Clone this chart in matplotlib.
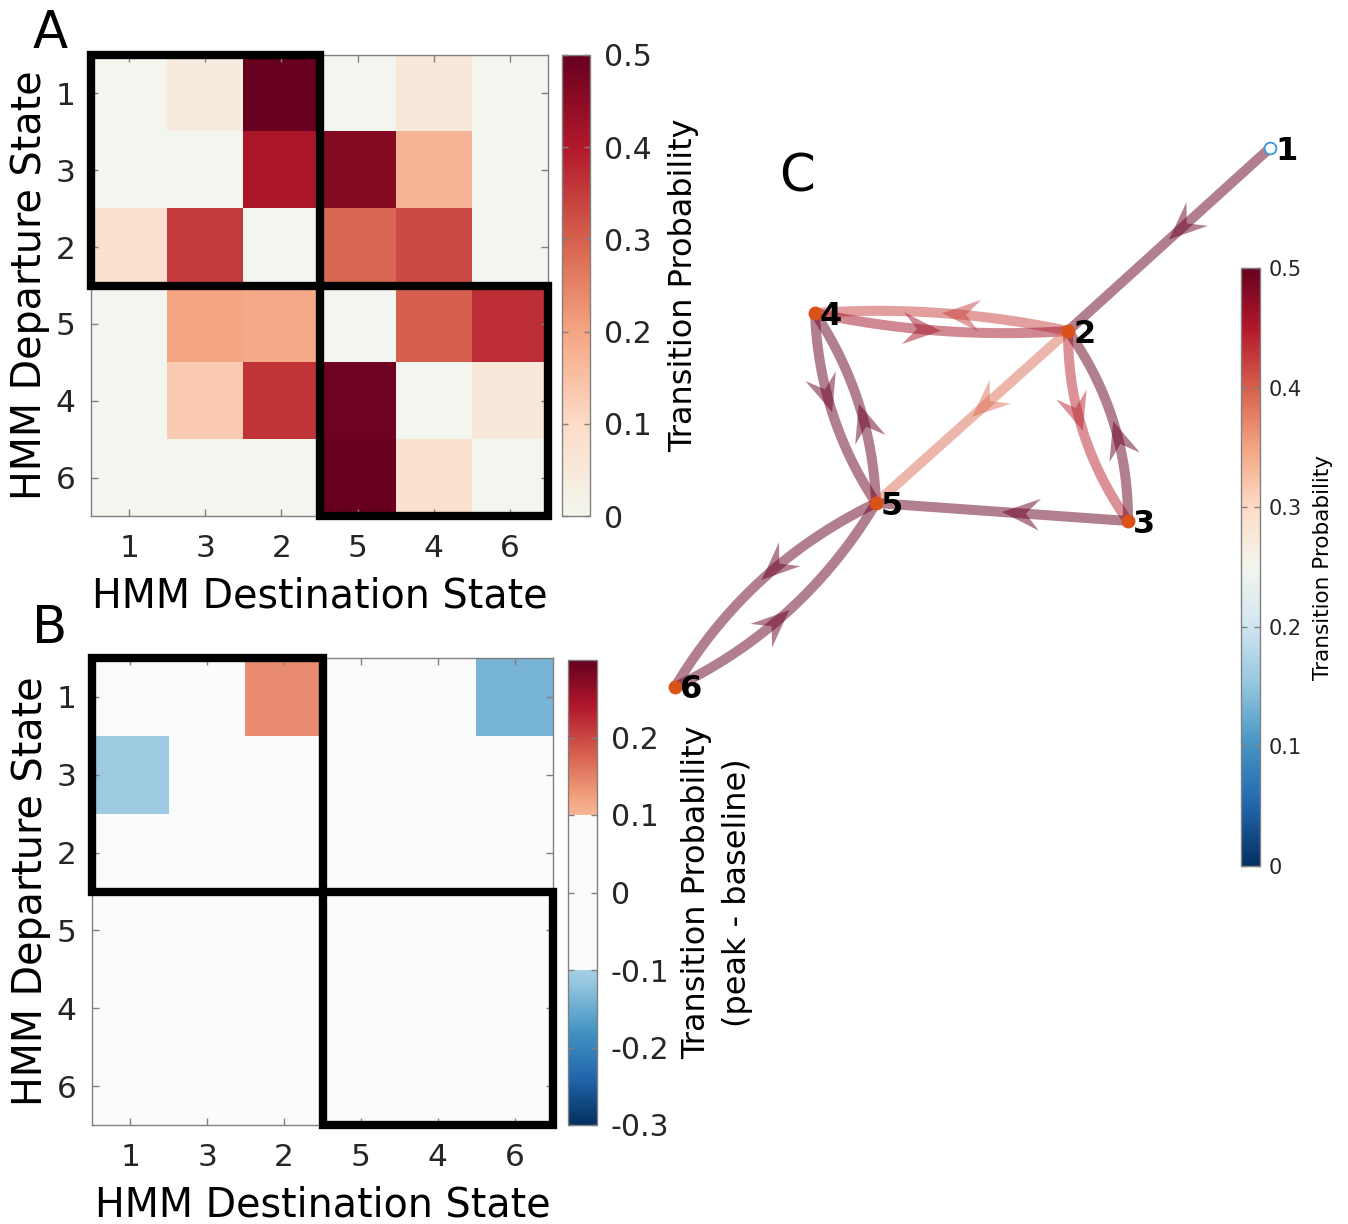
import numpy as np
import matplotlib
matplotlib.use('Agg')
import matplotlib.pyplot as plt
from matplotlib.colors import LinearSegmentedColormap, ListedColormap, Normalize
from matplotlib.patches import Rectangle, Polygon
from matplotlib.cm import ScalarMappable

plt.rcParams['font.family'] = ['DejaVu Sans']

# state order used on both matrix axes
state_order = ['1', '3', '2', '5', '4', '6']

# baseline transition probabilities (rows: departure, cols: destination)
trans_prob = np.array([
    [0.00, 0.04, 0.50, 0.00, 0.05, 0.00],
    [0.00, 0.00, 0.41, 0.46, 0.17, 0.00],
    [0.08, 0.35, 0.00, 0.29, 0.33, 0.00],
    [0.00, 0.20, 0.19, 0.00, 0.30, 0.37],
    [0.00, 0.13, 0.36, 0.49, 0.00, 0.05],
    [0.00, 0.00, 0.00, 0.50, 0.08, 0.00],
])

# peak minus baseline
trans_diff = np.array([
    [0.00, 0.00, 0.14, 0.00, 0.00, -0.14],
    [-0.11, 0.00, 0.00, 0.00, 0.00, 0.00],
    [0.00, 0.00, 0.00, 0.00, 0.00, 0.00],
    [0.00, 0.00, 0.00, 0.00, 0.00, 0.00],
    [0.00, 0.00, 0.00, 0.00, 0.00, 0.00],
    [0.00, 0.00, 0.00, 0.00, 0.00, 0.00],
])

# block outlines: (first index, size)
blocks = [(0, 3), (3, 3)]

# graph layout
node_ids = [1, 2, 3, 4, 5, 6]
node_x = [5.95, 3.93, 4.53, 1.40, 2.01, 0.00]
node_y = [5.39, 3.56, 1.66, 3.74, 1.84, 0.00]

# directed edges of the transition graph
edge_src = [1, 2, 4, 4, 5, 2, 2, 3, 3, 5, 6]
edge_dst = [2, 4, 2, 5, 4, 5, 3, 2, 5, 6, 5]
edge_w = [0.50, 0.42, 0.46, 0.50, 0.50, 0.39, 0.44, 0.50, 0.50, 0.50, 0.50]

# bend for reciprocal edge pairs
pair_rad = {(2, 4): 0.07, (4, 5): 0.14, (2, 3): 0.16, (5, 6): 0.15}

# colour maps
rb_pts = ['#053061', '#2166ac', '#4393c3', '#92c5de', '#d1e5f0', '#f3f6ee',
          '#fddbc7', '#f4a582', '#d6604d', '#b2182b', '#67001f']
div_cmap = LinearSegmentedColormap.from_list('div', rb_pts)
red_cmap = LinearSegmentedColormap.from_list('red', rb_pts[5:])

n = 600
diff_cols = plt.get_cmap('RdBu_r')(np.linspace(0, 1, n))
diff_cols[n // 3: 2 * n // 3] = matplotlib.colors.to_rgba('#fbfbfb')
diff_cmap = ListedColormap(diff_cols)

W, H = 1348, 1224
fig = plt.figure(figsize=(W / 100, H / 100), dpi=100)


def frac(x0, y0, x1, y1):
    return [x0 / W, 1 - y1 / H, (x1 - x0) / W, (y1 - y0) / H]


grey = '#808080'
tick_col = '#262626'


def draw_matrix(ax, mat, cmap, vmin, vmax):
    im = ax.imshow(mat, cmap=cmap, vmin=vmin, vmax=vmax, aspect='auto',
                   interpolation='nearest')
    ax.set_xticks(range(len(state_order)))
    ax.set_xticklabels(state_order)
    ax.set_yticks(range(len(state_order)))
    ax.set_yticklabels(state_order)
    ax.tick_params(direction='in', length=5, width=1, color=grey,
                   labelsize=22.5, labelcolor=tick_col, top=True, right=True)
    ax.tick_params(axis='x', pad=13)
    ax.tick_params(axis='y', pad=11)
    for s in ax.spines.values():
        s.set_edgecolor(grey)
        s.set_linewidth(1)
    ax.set_xlabel('HMM Destination State', fontsize=28.5, labelpad=10)
    ax.set_ylabel('HMM Departure State', fontsize=28.5, labelpad=4)
    for start, size in blocks:
        ax.add_patch(Rectangle((start - 0.5, start - 0.5), size, size, fill=False,
                               lw=6, ec='black', clip_on=False, zorder=5))
    return im


def style_cbar(cb, label, labelsize, ticksize, pad, lpad=8, lspace=1.2):
    cb.outline.set_edgecolor(grey)
    cb.outline.set_linewidth(1)
    cb.ax.tick_params(direction='in', length=4, width=1, color=grey,
                      labelsize=ticksize, labelcolor=tick_col, pad=pad,
                      left=True, right=True)
    cb.set_label(label, fontsize=labelsize, labelpad=lpad, linespacing=lspace)


# panel A
axA = fig.add_axes(frac(91, 55, 548, 516))
imA = draw_matrix(axA, trans_prob, red_cmap, 0, 0.5)
caxA = fig.add_axes(frac(562, 55, 590, 516))
cbA = fig.colorbar(imA, cax=caxA)
cbA.set_ticks([0, 0.1, 0.2, 0.3, 0.4, 0.5])
cbA.set_ticklabels(['0', '0.1', '0.2', '0.3', '0.4', '0.5'])
style_cbar(cbA, 'Transition Probability', 23, 21.5, 10, lpad=12)

# panel B
axB = fig.add_axes(frac(92, 658, 553, 1125))
imB = draw_matrix(axB, trans_diff, diff_cmap, -0.3, 0.3)
caxB = fig.add_axes(frac(568, 660, 597, 1125))
cbB = fig.colorbar(imB, cax=caxB)
cbB.set_ticks([-0.3, -0.2, -0.1, 0, 0.1, 0.2])
cbB.set_ticklabels(['-0.3', '-0.2', '-0.1', '0', '0.1', '0.2'])
style_cbar(cbB, 'Transition Probability\n(peak - baseline)', 23, 21.5, 10,
           lpad=8, lspace=1.45)

# panel C: transition graph
axC = fig.add_axes(frac(640, 120, 1300, 720))
axC.set_xlim(-0.35, 6.25)
axC.set_ylim(-0.33, 5.67)
axC.axis('off')

pos = {k: np.array([x, y]) for k, x, y in zip(node_ids, node_x, node_y)}
norm = Normalize(0, 0.5)
pairs = set(zip(edge_src, edge_dst))

for s, d, w in zip(edge_src, edge_dst, edge_w):
    p0, p1 = pos[s], pos[d]
    rad = 0.0
    if (d, s) in pairs:
        rad = pair_rad[tuple(sorted((s, d)))]
    mid = (p0 + p1) / 2
    vec = p1 - p0
    ctrl = mid + rad * np.array([vec[1], -vec[0]])
    t = np.linspace(0, 1, 80)[:, None]
    pts = (1 - t) ** 2 * p0 + 2 * (1 - t) * t * ctrl + t ** 2 * p1
    col = div_cmap(norm(w))
    axC.plot(pts[:, 0], pts[:, 1], color=col, alpha=0.5, lw=7.2,
             solid_capstyle='butt', zorder=2)
    # arrow head at the middle of the curve
    m = 0.25 * p0 + 0.5 * ctrl + 0.25 * p1
    u = vec / np.linalg.norm(vec)
    nrm = np.array([-u[1], u[0]])
    head = np.array([m,
                     m - u * 0.38 + nrm * 0.16,
                     m - u * 0.24,
                     m - u * 0.38 - nrm * 0.16])
    axC.add_patch(Polygon(head, closed=True, fc=col, ec='none', alpha=0.5, zorder=3))

for k in node_ids:
    x, y = pos[k]
    if k == 1:
        axC.plot(x, y, 'o', ms=8.5, mfc='white', mec='#3a96dd', mew=1.3, zorder=4)
    else:
        axC.plot(x, y, 'o', ms=9, color='#d95319', zorder=4)
    axC.text(x + 0.05, y - 0.03, str(k), fontsize=23, fontweight='bold',
             ha='left', va='center', zorder=5)

caxC = fig.add_axes(frac(1241, 268, 1260, 866))
cbC = fig.colorbar(ScalarMappable(norm=norm, cmap=div_cmap), cax=caxC)
cbC.set_ticks([0, 0.1, 0.2, 0.3, 0.4, 0.5])
cbC.set_ticklabels(['0', '0.1', '0.2', '0.3', '0.4', '0.5'])
style_cbar(cbC, 'Transition Probability', 15.5, 15, 6)

# panel letters
fig.text(50 / W, 1 - 48 / H, 'A', fontsize=37, ha='center', va='baseline')
fig.text(50 / W, 1 - 643 / H, 'B', fontsize=37, ha='center', va='baseline')
fig.text(797 / W, 1 - 192 / H, 'C', fontsize=37, ha='center', va='baseline')

fig.savefig('out.png', dpi=100)
